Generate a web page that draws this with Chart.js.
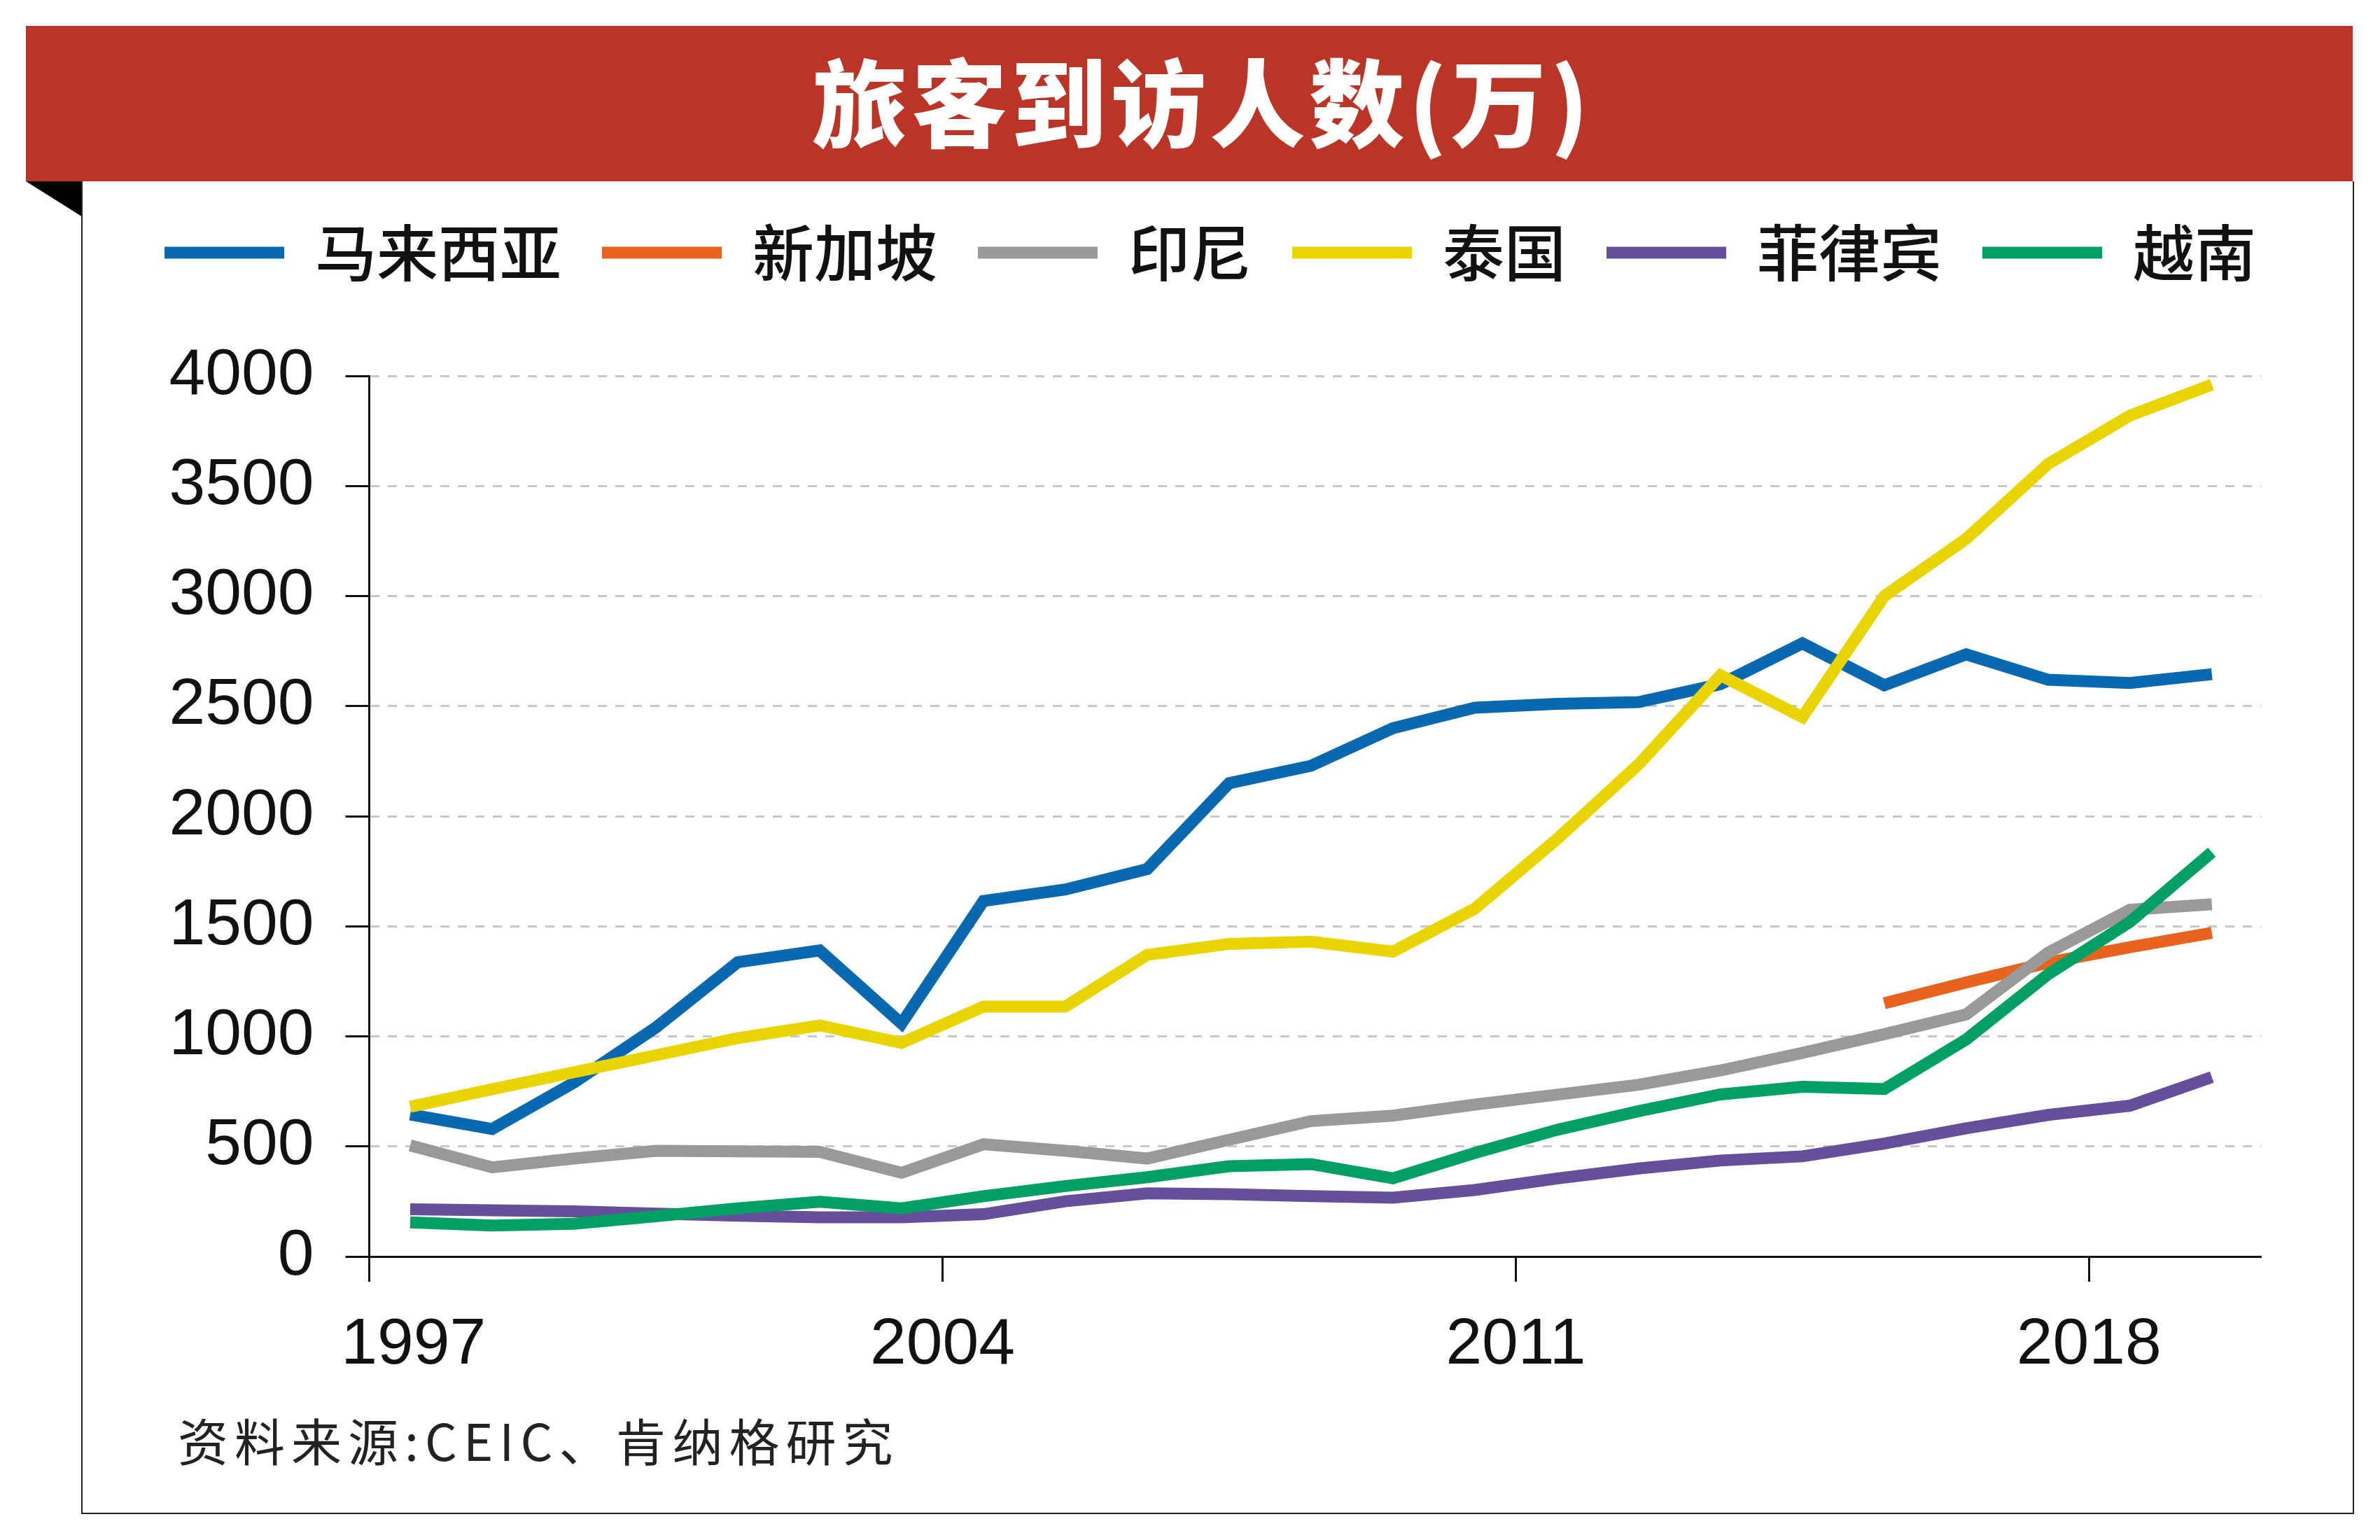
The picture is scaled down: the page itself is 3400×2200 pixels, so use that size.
<!DOCTYPE html>
<html lang="zh">
<head>
<meta charset="utf-8">
<title>旅客到访人数(万)</title>
<script src="https://cdn.jsdelivr.net/npm/chart.js@4.4.1/dist/chart.umd.min.js"></script>
<style>
  html, body { margin: 0; padding: 0; background: #fff; }
  body { width: 3400px; height: 2200px; position: relative; overflow: hidden; font-family: 'Noto Sans CJK SC', sans-serif; }
  #banner { position: absolute; left: 37px; top: 37px; width: 3324px; height: 222px; background: #bb3526; }
  #banner h1 { position: absolute; left: 0; right: 0; top: 36px; margin: 0; padding-left: 38px; text-align: center;
               color: #fff; font-size: 136px; line-height: 136px; font-weight: 900; letter-spacing: 6px; }
  #fold { position: absolute; left: 37px; top: 259px; width: 81px; height: 51px; background: #000;
          clip-path: polygon(0 0, 100% 0, 100% 100%); }
  #frame { position: absolute; left: 116px; top: 259px; width: 3247px; height: 1904px; box-sizing: border-box;
           border: 2px solid #222; border-top: none; }
  #chart { position: absolute; left: 100px; top: 259px; }
  #source { position: absolute; left: 254px; top: 2020px; font-size: 72px; line-height: 72px; letter-spacing: 9px; color: #222; }
</style>
</head>
<body>
<div id="banner"><h1>旅客到访人数(万)</h1></div>
<div id="fold"></div>
<div id="frame"></div>
<canvas id="chart" width="3258" height="1740"></canvas>
<div id="source">资料来源:CEIC、肯纳格研究</div>

<script>
// annual arrivals, in 10k
const years = [1997, 1998, 1999, 2000, 2001, 2002, 2003, 2004, 2005, 2006, 2007, 2008,
               2009, 2010, 2011, 2012, 2013, 2014, 2015, 2016, 2017, 2018, 2019];
const malaysia = [645, 579, 790, 1040, 1337, 1390, 1058, 1615, 1667, 1760, 2150, 2229,
                  2400, 2493, 2510, 2518, 2600, 2785, 2595, 2735, 2620, 2605, 2645];
const singapore = [null, null, null, null, null, null, null, null, null, null, null, null,
                   null, null, null, null, null, null, 1150, 1245, 1335, 1405, 1470];
const indonesia = [505, 405, 445, 480, 478, 475, 380, 510, 480, 445, 530, 615,
                   640, 690, 735, 780, 845, 925, 1010, 1100, 1380, 1575, 1600];
const thailand = [680, 760, 837, 914, 992, 1050, 970, 1135, 1135, 1370, 1420, 1430,
                  1385, 1580, 1895, 2235, 2640, 2450, 3000, 3260, 3600, 3820, 3960];
const philippines = [215, 210, 205, 195, 185, 178, 178, 192, 251, 287, 283, 274,
                     267, 302, 354, 400, 436, 455, 513, 582, 643, 685, 815];
const vietnam = [155, 141, 149, 183, 219, 249, 219, 274, 320, 360, 410, 420,
                 355, 470, 575, 660, 736, 771, 761, 986, 1282, 1520, 1836];

const seriesNames = ['马来西亚', '新加坡', '印尼', '泰国', '菲律宾', '越南'];
const seriesColors = ['#0868b0', '#e8641e', '#999999', '#ead400', '#654e9a', '#00a064'];
const yTicks = [0, 500, 1000, 1500, 2000, 2500, 3000, 3500, 4000];
const xTickYears = [1997, 2004, 2011, 2018];
const xTickLabels = ['1997', '2004', '2011', '2018'];

const seriesValues = [malaysia, singapore, indonesia, thailand, philippines, vietnam];
// lower order = drawn on top
const drawOrder = [4, 3, 2, 1, 5, 0];
// first label sits right of the axis, not under it
const xLabelAt = [1997.54, 2004, 2011, 2018];

const tickFont = { family: "'Liberation Sans', Arial, sans-serif", size: 93 };

const datasets = seriesNames.map((name, i) => ({
    label: name,
    data: years.map((yr, j) => ({ x: yr + 0.5, y: seriesValues[i][j] })),
    borderColor: seriesColors[i],
    backgroundColor: seriesColors[i],
    borderWidth: 17,
    borderJoinStyle: 'miter',
    borderCapStyle: 'butt',
    pointRadius: 0,
    fill: false,
    tension: 0,
    order: drawOrder[i]
}));

// extra room between legend and plot
const legendSpace = {
    id: 'legendSpace',
    beforeInit(chart) {
        if (!chart.legend) return;
        const fit = chart.legend.fit;
        chart.legend.fit = function () {
            fit.call(this);
            this.height += 122;
        };
    }
};

new Chart(document.getElementById('chart'), {
    type: 'line',
    data: { datasets },
    plugins: [legendSpace],
    options: {
        responsive: false,
        animation: false,
        devicePixelRatio: 1,
        layout: { padding: 0 },
        plugins: {
            legend: {
                position: 'top',
                labels: {
                    boxWidth: 171,
                    boxHeight: 17,
                    padding: 58,
                    color: '#111',
                    font: { family: "'Noto Sans CJK SC', sans-serif", size: 88, weight: '500' },
                    sort: (a, b) => a.datasetIndex - b.datasetIndex,
                    generateLabels: chart => Chart.defaults.plugins.legend.labels.generateLabels(chart)
                        .map(l => Object.assign(l, { lineWidth: 0 }))
                }
            },
            tooltip: { enabled: false }
        },
        scales: {
            x: {
                type: 'linear',
                min: 1997,
                max: 2020.1,
                afterBuildTicks: s => { s.ticks = xTickYears.map(v => ({ value: v })); },
                ticks: { display: false },
                grid: { drawOnChartArea: false, drawTicks: true, tickLength: 36, tickColor: '#111', tickWidth: 3 },
                border: { color: '#111', width: 3 }
            },
            x2: {
                type: 'linear',
                position: 'bottom',
                weight: 1,
                min: 1997,
                max: 2020.1,
                afterBuildTicks: s => { s.ticks = xLabelAt.map(v => ({ value: v })); },
                afterFit: s => { s.height = 168; },
                ticks: {
                    autoSkip: false,
                    maxRotation: 0,
                    padding: 28,
                    color: '#111',
                    font: tickFont,
                    callback: (v, i) => xTickLabels[i]
                },
                grid: { display: false },
                border: { display: false }
            },
            y: {
                min: 0,
                max: 4000,
                afterBuildTicks: s => { s.ticks = yTicks.map(v => ({ value: v })); },
                afterFit: s => { s.width = 427.5; },
                ticks: { padding: 45, color: '#111', font: tickFont, callback: v => String(v) },
                grid: { color: '#c8c8c8', lineWidth: 3, tickColor: '#111', tickWidth: 3, tickLength: 34 },
                border: { color: '#111', width: 3, dash: [13, 12] }
            },
            // empty right-hand axis: keeps the plot narrower than the legend row
            yR: {
                position: 'right',
                min: 0,
                max: 1,
                afterFit: s => { s.width = 128; },
                ticks: { display: false },
                grid: { display: false },
                border: { display: false }
            }
        }
    }
});
</script>
</body>
</html>
